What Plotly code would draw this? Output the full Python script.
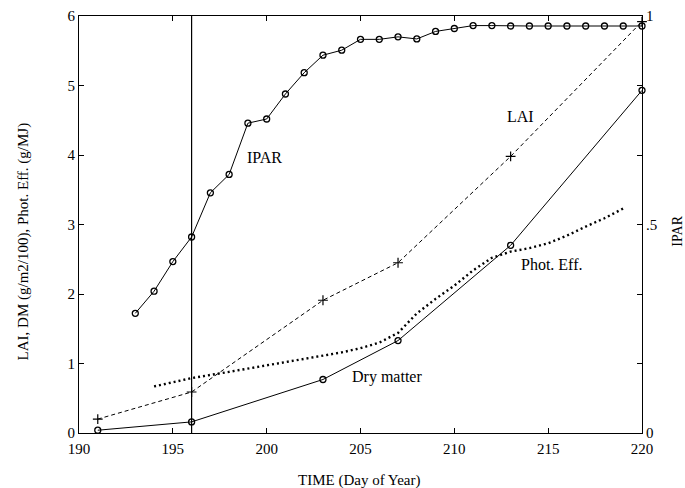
import plotly.graph_objects as go

# IPAR (fraction, right axis)
ipar_days = list(range(193, 221))
ipar_vals = [0.287, 0.340, 0.411, 0.470, 0.576, 0.620, 0.743, 0.753, 0.813, 0.864,
             0.906, 0.918, 0.944, 0.944, 0.950, 0.945, 0.963, 0.970, 0.977, 0.977,
             0.976, 0.976, 0.976, 0.976, 0.976, 0.976, 0.976, 0.976]

# LAI
lai_days = [191, 196, 203, 207, 213, 220]
lai_vals = [0.20, 0.59, 1.91, 2.45, 3.98, 5.92]

# Dry matter (g/m2/100)
dm_days = [191, 196, 203, 207, 213, 220]
dm_vals = [0.04, 0.16, 0.77, 1.33, 2.70, 4.93]

# Photosynthetic efficiency (g/MJ)
pe_days = [194, 196, 198, 200, 202, 204, 205, 206, 207, 208, 209, 210, 211, 212, 213, 214, 215, 216, 217, 218, 219]
pe_vals = [0.67, 0.79, 0.88, 0.97, 1.06, 1.16, 1.22, 1.30, 1.44, 1.72, 1.93, 2.12, 2.34, 2.52, 2.61, 2.66, 2.73, 2.84, 2.97, 3.09, 3.23]

marker_day = 196

x_ticks = [190, 195, 200, 205, 210, 215, 220]
y_ticks = [0, 1, 2, 3, 4, 5, 6]
ipar_tickvals = [0, 1/6, 2/6, 0.5, 4/6, 5/6, 1]
ipar_ticktext = ["0", "", "", ".5", "", "", "1"]

FONT = "Liberation Serif"
BLACK = "black"

fig = go.Figure()

fig.add_trace(go.Scatter(
    x=ipar_days, y=ipar_vals, yaxis="y2", mode="lines+markers",
    line=dict(color=BLACK, width=1),
    marker=dict(symbol="circle-open", size=6, color=BLACK, line=dict(width=1.3)),
    cliponaxis=False, showlegend=False))

fig.add_trace(go.Scatter(
    x=lai_days, y=lai_vals, mode="lines+markers",
    line=dict(color=BLACK, width=1, dash="4px,3px"),
    marker=dict(symbol="cross-thin-open", size=7, color=BLACK, line=dict(width=1.2, color=BLACK)),
    cliponaxis=False, showlegend=False))

fig.add_trace(go.Scatter(
    x=dm_days, y=dm_vals, mode="lines+markers",
    line=dict(color=BLACK, width=1),
    marker=dict(symbol="circle-open", size=6, color=BLACK, line=dict(width=1.3)),
    cliponaxis=False, showlegend=False))

fig.add_trace(go.Scatter(
    x=pe_days, y=pe_vals, mode="lines",
    line=dict(color=BLACK, width=2.4, dash="2px,3px"),
    showlegend=False))

fig.add_vline(x=marker_day, line=dict(color=BLACK, width=1.2))

ann_font = dict(family=FONT, size=16, color=BLACK)
fig.add_annotation(x=199.9, y=3.96, text="IPAR", showarrow=False, font=ann_font)
fig.add_annotation(x=213.5, y=4.55, text="LAI", showarrow=False, font=ann_font)
fig.add_annotation(x=215.2, y=2.42, text="Phot. Eff.", showarrow=False, font=ann_font)
fig.add_annotation(x=206.4, y=0.81, text="Dry matter", showarrow=False, font=ann_font)

fig.add_annotation(xref="paper", yref="paper", x=-0.099, y=0.46, xanchor="center", yanchor="middle",
                   text="LAI, DM (g/m2/100), Phot. Eff. (g/MJ)", textangle=-90,
                   showarrow=False, font=dict(family=FONT, size=15, color=BLACK))
fig.add_annotation(xref="paper", yref="paper", x=1.063, y=0.484, xanchor="center", yanchor="middle",
                   text="IPAR", textangle=-90,
                   showarrow=False, font=dict(family=FONT, size=14, color=BLACK))
fig.add_annotation(xref="paper", yref="paper", x=0.497, y=-0.113, xanchor="center", yanchor="middle",
                   text="TIME (Day of Year)",
                   showarrow=False, font=dict(family=FONT, size=15, color=BLACK))

axis_common = dict(showgrid=False, zeroline=False, showline=True, linecolor=BLACK, linewidth=1.2,
                   ticks="inside", ticklen=5, tickcolor=BLACK, automargin=False,
                   tickfont=dict(family=FONT, size=15, color=BLACK))

fig.update_layout(
    width=685, height=488,
    margin=dict(l=79, r=43, t=16, b=55),
    paper_bgcolor="white", plot_bgcolor="white",
    font=dict(family=FONT, color=BLACK),
    xaxis=dict(range=[190, 220], tickvals=x_ticks, mirror="ticks", ticklabelstandoff=2, **axis_common),
    yaxis=dict(range=[0, 6], tickvals=y_ticks, **axis_common),
    yaxis2=dict(range=[0, 1], overlaying="y", side="right", tickvals=ipar_tickvals,
                ticktext=ipar_ticktext, **axis_common),
)

fig.write_html("out.html", config={"displayModeBar": False},
               post_script="document.body.style.margin='0';document.body.style.padding='0';")
